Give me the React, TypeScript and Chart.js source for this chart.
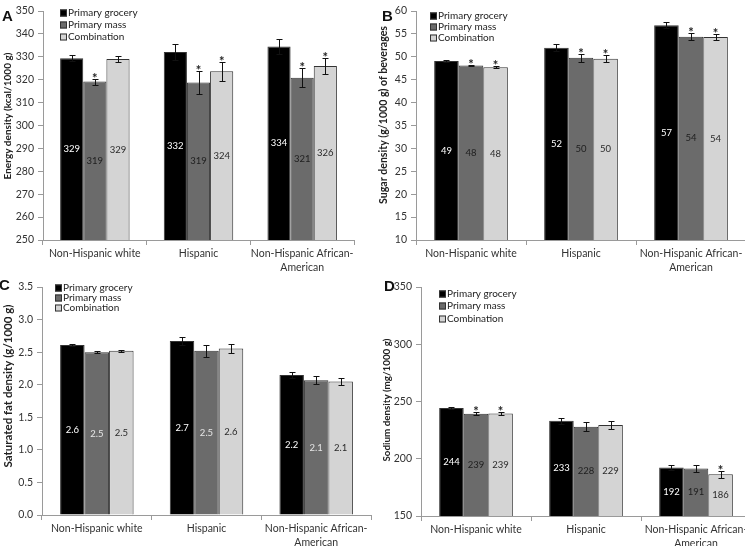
import React, { useEffect, useRef } from "react";
import { Chart, registerables } from "chart.js";
Chart.register(...registerables);

const FONT = "Lato, 'Open Sans', sans-serif";

const categories = [["Non-Hispanic white"], ["Hispanic"], ["Non-Hispanic African-", "American"]];
const seriesNames = ["Primary grocery", "Primary mass", "Combination"];
const seriesColors = ["#000000", "#6b6b6b", "#d4d4d4"];

// Panel A – energy density
const energyGrocery = [329.4, 332.1, 334.5];
const energyGroceryErr = [1.2, 3.6, 3.1];
const energyMass = [319.2, 318.8, 320.8];
const energyMassErr = [1.3, 5.0, 4.2];
const energyCombination = [329.0, 323.7, 326.0];
const energyCombinationErr = [1.3, 4.1, 3.5];
const energyGroceryLabels = ["329", "332", "334"];
const energyMassLabels = ["319", "319", "321"];
const energyCombinationLabels = ["329", "324", "326"];
const energyGroceryStars = [false, false, false];
const energyMassStars = [true, true, true];
const energyCombinationStars = [false, true, true];
const energyAxis = [250, 350, 10];

// Panel B – sugar density
const sugarGrocery = [49.1, 52.0, 56.9];
const sugarGroceryErr = [0.2, 0.7, 0.6];
const sugarMass = [48.1, 49.8, 54.4];
const sugarMassErr = [0.2, 0.9, 0.7];
const sugarCombination = [47.7, 49.6, 54.3];
const sugarCombinationErr = [0.2, 0.8, 0.6];
const sugarGroceryLabels = ["49", "52", "57"];
const sugarMassLabels = ["48", "50", "54"];
const sugarCombinationLabels = ["48", "50", "54"];
const sugarGroceryStars = [false, false, false];
const sugarMassStars = [true, true, true];
const sugarCombinationStars = [true, true, true];
const sugarAxis = [10, 60, 5];

// Panel C – saturated fat density
const fatGrocery = [2.61, 2.67, 2.15];
const fatGroceryErr = [0.015, 0.06, 0.05];
const fatMass = [2.5, 2.52, 2.07];
const fatMassErr = [0.02, 0.09, 0.065];
const fatCombination = [2.52, 2.555, 2.05];
const fatCombinationErr = [0.015, 0.07, 0.06];
const fatGroceryLabels = ["2.6", "2.7", "2.2"];
const fatMassLabels = ["2.5", "2.5", "2.1"];
const fatCombinationLabels = ["2.5", "2.6", "2.1"];
const fatGroceryStars = [false, false, false];
const fatMassStars = [false, false, false];
const fatCombinationStars = [false, false, false];
const fatAxis = [0, 3.5, 0.5];

// Panel D – sodium density
const sodiumGrocery = [244.3, 233.2, 192.3];
const sodiumGroceryErr = [0.8, 2.8, 2.5];
const sodiumMass = [239.4, 228.0, 191.5];
const sodiumMassErr = [1.2, 4.2, 3.3];
const sodiumCombination = [239.5, 229.5, 186.5];
const sodiumCombinationErr = [1.0, 3.3, 3.0];
const sodiumGroceryLabels = ["244", "233", "192"];
const sodiumMassLabels = ["239", "228", "191"];
const sodiumCombinationLabels = ["239", "229", "186"];
const sodiumGroceryStars = [false, false, false];
const sodiumMassStars = [true, false, false];
const sodiumCombinationStars = [true, false, true];
const sodiumAxis = [150, 350, 50];

type Spec = {
  letter: string; letterX: number; letterY: number;
  left: number; top: number; width: number; height: number;
  yAxisWidth: number; xAxisHeight: number; padTop: number; padRight: number;
  yTitle: string; titleSize: number; titleX: number; titleY: number;
  axis: number[]; decimals: number;
  values: number[][]; errors: number[][]; labels: string[][]; stars: boolean[][];
  labelColors: string[];
  legendX: number; legendRows: number[];
};

const specs: Spec[] = [
  {
    letter: "A", letterX: 2, letterY: 21, left: 0, top: 0, width: 372, height: 273,
    yAxisWidth: 43, xAxisHeight: 33, padTop: 11, padRight: 18,
    yTitle: "Energy density (kcal/1000 g)", titleSize: 10, titleX: 8, titleY: 116,
    axis: energyAxis, decimals: 0,
    values: [energyGrocery, energyMass, energyCombination],
    errors: [energyGroceryErr, energyMassErr, energyCombinationErr],
    labels: [energyGroceryLabels, energyMassLabels, energyCombinationLabels],
    stars: [energyGroceryStars, energyMassStars, energyCombinationStars],
    labelColors: ["#ffffff", "#1e1e1e", "#2a2a2a"],
    legendX: 60, legendRows: [13, 25, 37],
  },
  {
    letter: "B", letterX: 10, letterY: 21, left: 372, top: 0, width: 374, height: 273,
    yAxisWidth: 44, xAxisHeight: 33, padTop: 11, padRight: 0,
    yTitle: "Sugar density (g/1000 g) of beverages", titleSize: 10.6, titleX: 12, titleY: 115,
    axis: sugarAxis, decimals: 0,
    values: [sugarGrocery, sugarMass, sugarCombination],
    errors: [sugarGroceryErr, sugarMassErr, sugarCombinationErr],
    labels: [sugarGroceryLabels, sugarMassLabels, sugarCombinationLabels],
    stars: [sugarGroceryStars, sugarMassStars, sugarCombinationStars],
    labelColors: ["#ffffff", "#1e1e1e", "#2a2a2a"],
    legendX: 58, legendRows: [16, 27, 38],
  },
  {
    letter: "C", letterX: -1, letterY: 17, left: 0, top: 273, width: 372, height: 273,
    yAxisWidth: 42, xAxisHeight: 31, padTop: 14, padRight: 1,
    yTitle: "Saturated fat density (g/1000 g)", titleSize: 11.5, titleX: 8, titleY: 113,
    axis: fatAxis, decimals: 1,
    values: [fatGrocery, fatMass, fatCombination],
    errors: [fatGroceryErr, fatMassErr, fatCombinationErr],
    labels: [fatGroceryLabels, fatMassLabels, fatCombinationLabels],
    stars: [fatGroceryStars, fatMassStars, fatCombinationStars],
    labelColors: ["#ffffff", "#e6e6e6", "#2a2a2a"],
    legendX: 55, legendRows: [15, 25, 35],
  },
  {
    letter: "D", letterX: 12, letterY: 18, left: 372, top: 273, width: 380, height: 273,
    yAxisWidth: 49, xAxisHeight: 30, padTop: 14, padRight: 1,
    yTitle: "Sodium density (mg/1000 g)", titleSize: 9.8, titleX: 15, titleY: 127,
    axis: sodiumAxis, decimals: 0,
    values: [sodiumGrocery, sodiumMass, sodiumCombination],
    errors: [sodiumGroceryErr, sodiumMassErr, sodiumCombinationErr],
    labels: [sodiumGroceryLabels, sodiumMassLabels, sodiumCombinationLabels],
    stars: [sodiumGroceryStars, sodiumMassStars, sodiumCombinationStars],
    labelColors: ["#ffffff", "#1e1e1e", "#2a2a2a"],
    legendX: 67, legendRows: [21, 33, 46],
  },
];

function makeOverlay(spec: Spec) {
  return {
    id: "overlay" + spec.letter,
    afterDatasetsDraw(chart: any) {
      const ctx = chart.ctx;
      const ys = chart.scales.y;
      const basePx = ys.getPixelForValue(spec.axis[0]);
      ctx.save();
      spec.values.forEach((vals, di) => {
        const meta = chart.getDatasetMeta(di);
        meta.data.forEach((el: any, i: number) => {
          const v = vals[i];
          const e = spec.errors[di][i];
          const x = el.x;
          ctx.font = `9.5px ${FONT}`;
          ctx.fillStyle = spec.labelColors[di];
          ctx.textAlign = "center";
          ctx.textBaseline = "middle";
          ctx.fillText(spec.labels[di][i], x, (el.y + basePx) / 2);
          const yTop = Math.round(ys.getPixelForValue(v + e)) + 0.5;
          const yBot = Math.round(ys.getPixelForValue(v - e)) + 0.5;
          const xs = Math.round(x) + 0.5;
          ctx.strokeStyle = "#111";
          ctx.lineWidth = 1;
          ctx.beginPath();
          ctx.moveTo(xs, yTop);
          ctx.lineTo(xs, yBot);
          ctx.moveTo(xs - 3, yTop);
          ctx.lineTo(xs + 3, yTop);
          ctx.moveTo(xs - 3, yBot);
          ctx.lineTo(xs + 3, yBot);
          ctx.stroke();
          if (spec.stars[di][i]) {
            ctx.font = `bold 13px ${FONT}`;
            ctx.fillStyle = "#222";
            ctx.textBaseline = "alphabetic";
            ctx.fillText("*", x, yTop + 3);
          }
        });
      });
      ctx.restore();
    },
    afterDraw(chart: any) {
      const ctx = chart.ctx;
      ctx.save();
      seriesNames.forEach((name, i) => {
        const cy = spec.legendRows[i];
        ctx.fillStyle = seriesColors[i];
        ctx.fillRect(spec.legendX, cy - 3.5, 7, 7);
        ctx.strokeStyle = "#333";
        ctx.lineWidth = 1;
        ctx.strokeRect(spec.legendX + 0.5, cy - 3, 6, 6);
        ctx.font = `10px ${FONT}`;
        ctx.fillStyle = "#222";
        ctx.textAlign = "left";
        ctx.textBaseline = "middle";
        ctx.fillText(name, spec.legendX + 8, cy);
      });
      ctx.font = "bold 15px Arial, 'Liberation Sans', sans-serif";
      ctx.fillStyle = "#111";
      ctx.textAlign = "left";
      ctx.textBaseline = "alphabetic";
      ctx.fillText(spec.letter, spec.letterX, spec.letterY);
      ctx.translate(spec.titleX, spec.titleY);
      ctx.rotate(-Math.PI / 2);
      ctx.font = `bold ${spec.titleSize}px ${FONT}`;
      ctx.fillStyle = "#222";
      ctx.textAlign = "center";
      ctx.textBaseline = "middle";
      ctx.fillText(spec.yTitle, 0, 0);
      ctx.restore();
    },
  };
}

function Panel({ spec }: { spec: Spec }) {
  const ref = useRef<HTMLCanvasElement | null>(null);
  useEffect(() => {
    if (!ref.current) return;
    const datasets = spec.values.map((vals, i) => ({
      label: seriesNames[i],
      data: vals,
      backgroundColor: seriesColors[i],
      borderColor: "#333333",
      borderWidth: 1,
      categoryPercentage: 0.67,
      barPercentage: 1.0,
    }));
    const [yMin, yMax, yStep] = spec.axis;
    const chart = new Chart(ref.current, {
      type: "bar",
      data: { labels: categories as any, datasets },
      options: {
        responsive: false,
        animation: false,
        events: [],
        layout: { padding: { top: spec.padTop, right: spec.padRight, left: 0, bottom: 0 } },
        plugins: { legend: { display: false }, tooltip: { enabled: false } },
        scales: {
          x: {
            grid: { offset: true, drawOnChartArea: false, drawTicks: true, tickLength: 5, color: "#9a9a9a" },
            border: { color: "#9a9a9a" },
            ticks: {
              font: { family: FONT, size: 10.5, lineHeight: 1.3 },
              color: "#333",
              padding: 2,
              maxRotation: 0,
              autoSkip: false,
            },
            afterFit: (s: any) => { s.height = spec.xAxisHeight; },
          },
          y: {
            min: yMin,
            max: yMax,
            ticks: {
              stepSize: yStep,
              font: { family: FONT, size: 10.5 },
              color: "#333",
              padding: 4,
              callback: (v: any) => Number(v).toFixed(spec.decimals),
            },
            grid: { drawOnChartArea: false, drawTicks: true, tickLength: 5, color: "#9a9a9a" },
            border: { color: "#9a9a9a" },
            title: { display: false },
            afterFit: (s: any) => { s.width = spec.yAxisWidth; },
          },
        },
      } as any,
      plugins: [makeOverlay(spec)],
    });
    return () => chart.destroy();
  }, [spec]);
  return (
    <div style={{ position: "absolute", left: spec.left, top: spec.top, width: spec.width, height: spec.height }}>
      <canvas ref={ref} width={spec.width} height={spec.height} style={{ display: "block" }} />
    </div>
  );
}

export default function App() {
  return (
    <div style={{ position: "absolute", left: 0, top: 0, width: 745, height: 546, overflow: "hidden", background: "#fff" }}>
      {specs.map((s) => (
        <Panel key={s.letter} spec={s} />
      ))}
    </div>
  );
}
